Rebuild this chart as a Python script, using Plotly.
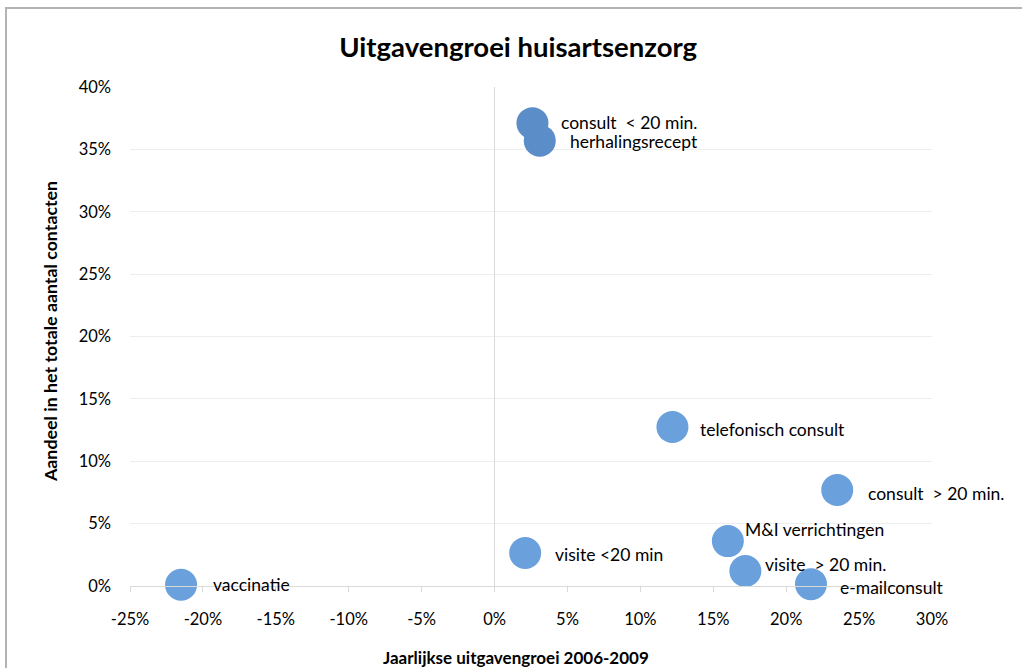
import plotly.graph_objects as go

# Data
labels = ["consult\u00a0\u00a0< 20 min.", "herhalingsrecept", "telefonisch consult",
          "consult\u00a0\u00a0> 20 min.", "M&I verrichtingen", "visite\u00a0\u00a0> 20 min.",
          "e-mailconsult", "visite <20 min", "vaccinatie"]
groei = [2.6, 3.1, 12.2, 23.5, 16.0, 17.2, 21.7, 2.1, -21.5]
aandeel = [37.1, 35.7, 12.75, 7.7, 3.6, 1.2, 0.15, 2.65, 0.1]

x_ticks = [-25, -20, -15, -10, -5, 0, 5, 10, 15, 20, 25, 30]
x_ticktext = ["-25%", "-20%", "-15%", "-10%", "-5%", "0%", "5%", "10%", "15%", "20%", "25%", "30%"]
y_ticks = [0, 5, 10, 15, 20, 25, 30, 35, 40]
y_ticktext = ["0%", "5%", "10%", "15%", "20%", "25%", "30%", "35%", "40%"]

# styling per point
colors = ["#5b8ec9", "#5b8ec9"] + ["#6aa0dc"] * 7
label_shift = [(27, 1), (28, -1), (26, -3), (29, -4), (15, 12), (18, 7), (27, -3), (28, -2), (30, 0)]

fig = go.Figure()
fig.add_trace(go.Scatter(
    x=groei, y=aandeel, mode="markers",
    marker=dict(size=32, color=colors, line=dict(width=0)),
    cliponaxis=False, hoverinfo="text", hovertext=labels,
))

for lab, gx, ay, (dx, dy) in zip(labels, groei, aandeel, label_shift):
    fig.add_annotation(x=gx, y=ay, text=lab, showarrow=False, xanchor="left", yanchor="middle",
                       xshift=dx, yshift=dy, font=dict(size=17.5, color="#000000"))

font = "Lato, 'Open Sans', sans-serif"

fig.update_layout(
    width=1022, height=668,
    margin=dict(l=130, r=90, t=87, b=82),
    paper_bgcolor="white", plot_bgcolor="white",
    font=dict(family=font, size=16, color="#000000"),
    showlegend=False,
    title=dict(text="<b>Uitgavengroei huisartsenzorg</b>", x=0.507, xref="container", xanchor="center",
               y=1 - 47 / 668, yref="container", yanchor="middle", font=dict(size=27.5)),
    xaxis=dict(range=[-25, 30], tickvals=x_ticks, ticktext=x_ticktext, showgrid=False,
               zeroline=True, zerolinecolor="#d9d9d9", zerolinewidth=1,
               showline=True, linecolor="#d9d9d9", linewidth=1,
               ticks="outside", ticklen=5, tickcolor="#d9d9d9",
               ticklabelstandoff=13, tickfont=dict(size=16.5)),
    yaxis=dict(range=[0, 40], tickvals=y_ticks, ticktext=y_ticktext, showgrid=True, gridcolor="#eeeeee",
               zeroline=False, showline=False, ticks="", ticklabelstandoff=18,
               tickfont=dict(size=16.5)),
    annotations=list(fig.layout.annotations) + [
        dict(text="<b>Aandeel in het totale aantal contacten</b>", textangle=-90,
             xref="paper", yref="paper", x=(50 - 130) / 802, y=(586 - 332) / 499,
             showarrow=False, xanchor="center", yanchor="middle", font=dict(size=17.8)),
        dict(text="<b>Jaarlijkse uitgavengroei 2006-2009</b>",
             xref="paper", yref="paper", x=(516 - 130) / 802, y=(586 - 657) / 499,
             showarrow=False, xanchor="center", yanchor="middle", font=dict(size=17)),
    ],
    shapes=[
        dict(type="line", xref="paper", yref="paper", x0=(5 - 130) / 802, x1=(1022 - 130) / 802,
             y0=(586 - 8) / 499, y1=(586 - 8) / 499, line=dict(color="#b3b3b3", width=2)),
        dict(type="line", xref="paper", yref="paper", x0=(6 - 130) / 802, x1=(6 - 130) / 802,
             y0=(586 - 8) / 499, y1=(586 - 668) / 499, line=dict(color="#b3b3b3", width=2)),
    ],
)

fig.write_html("out.html", config={"displayModeBar": False},
               post_script="document.body.style.margin='0';")
